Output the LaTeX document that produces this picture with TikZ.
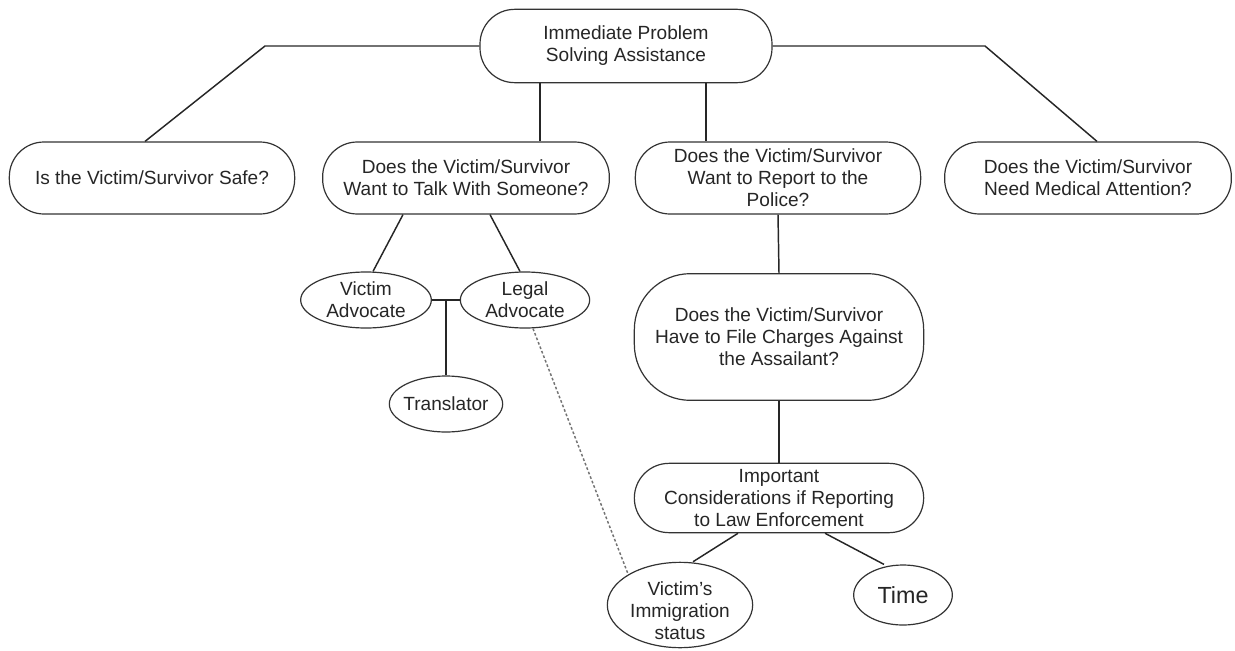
\documentclass[tikz,border=0pt]{standalone}
\usepackage{fontspec}
\setmainfont{Liberation Sans}
\usetikzlibrary{shapes.geometric,calc}
\begin{document}
\begin{tikzpicture}[x=0.75pt,y=-0.75pt,
  every node/.style={font=\fontsize{14.3}{16.5}\selectfont, text=black!85, align=center},
  pill/.style={draw=black!80, line width=0.9pt, fill=white, rectangle, rounded corners=26pt, inner sep=0pt},
  oval/.style={draw=black!80, line width=0.9pt, fill=white, ellipse, inner sep=-3pt},
  link/.style={draw=black!85, line width=1.1pt},
  dotlink/.style={draw=black!55, line width=1.1pt, dash pattern=on 2pt off 1.6pt}
]
\useasboundingbox (0,0) rectangle (1235,650);

% main boxes
\node[pill, minimum width=219pt, minimum height=55pt] (top) at (626,46) {Immediate Problem\\Solving Assistance};
\node[pill, minimum width=214pt, minimum height=54pt] (safe) at (152,178) {Is the Victim/Survivor Safe?};
\node[pill, minimum width=215pt, minimum height=54pt] (talk) at (466,178) {Does the Victim/Survivor\\Want to Talk With Someone?};
\node[pill, minimum width=214pt, minimum height=54pt] (report) at (778,178) {Does the Victim/Survivor\\Want to Report to the\\Police?};
\node[pill, minimum width=215pt, minimum height=54pt] (med) at (1088,178) {Does the Victim/Survivor\\Need Medical Attention?};
\node[pill, rounded corners=42pt, minimum width=217pt, minimum height=95pt] (charges) at (779,337) {Does the Victim/Survivor\\Have to File Charges Against\\the Assailant?};
\node[pill, minimum width=217pt, minimum height=52pt] (cons) at (779,498) {Important\\Considerations if Reporting\\to Law Enforcement};

% ellipses
\node[oval, minimum width=98pt, minimum height=42pt] (va) at (366,300) {Victim\\Advocate};
\node[oval, minimum width=97pt, minimum height=42pt] (la) at (525,300) {Legal\\Advocate};
\node[oval, minimum width=85pt, minimum height=42pt] (tr) at (446,404) {Translator};
\node[oval, minimum width=109pt, minimum height=64pt] (imm) at (680,605) {\raisebox{-6pt}[\height][\depth]{\begin{tabular}{@{}c@{}}Victim's\\Immigration\\status\end{tabular}}};
\node[oval, minimum width=74pt, minimum height=45pt, font=\fontsize{17.5}{20}\selectfont] (time) at (903,595) {Time};

% connectors from top
\coordinate (cl) at (265,46);
\coordinate (cr) at (985,46);
\draw[link] (top.west) -- (cl) -- ($(safe.north)+(-7,0)$);
\draw[link] (top.east) -- (cr) -- ($(med.north)+(9,0)$);
\draw[link] ($(top.south)+(-86,0)$) -- ($(talk.north)+(74,0)$);
\draw[link] ($(top.south)+(80,0)$) -- ($(report.north)+(-72,0)$);

% talk branch
\draw[link] ($(talk.south)+(-63,0)$) -- ($(va.north)+(7,0)$);
\draw[link] ($(talk.south)+(24,0)$) -- ($(la.north)+(-5,0)$);
\coordinate (mid) at ($(va.east)!0.5!(la.west)$);
\draw[link] (va.east) -- (la.west);
\draw[link] (mid) -- (mid |- tr.north);

% report branch
\draw[link] (report.south) -- (charges.north);
\draw[link] (charges.south) -- (cons.north);
\draw[link] ($(cons.south)+(-41,0)$) -- ($(imm.north)+(13,0)$);
\draw[link] ($(cons.south)+(46,0)$) -- ($(time.north)+(-19,0)$);

% dotted
\draw[dotlink] ($(la.south)+(8,0)$) -- (imm.north west);
\end{tikzpicture}
\end{document}
